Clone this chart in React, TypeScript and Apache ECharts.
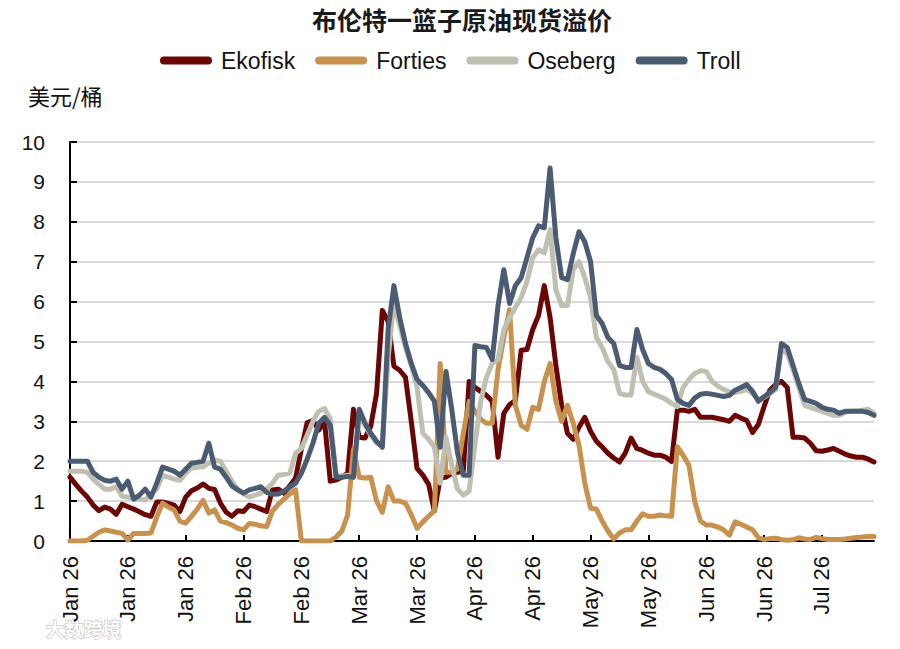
import React, { useEffect, useRef } from "react";
import * as echarts from "echarts";

const MONTHS = ["Jan", "Feb", "Mar", "Apr", "May", "Jun", "Jul", "Aug", "Sep", "Oct", "Nov", "Dec"];

// business days starting 2 Jan 2026 (categories)
const CATEGORY_COUNT = 140;
const categories: string[] = (() => {
  const out: string[] = [];
  const d = new Date(Date.UTC(2026, 0, 2));
  while (out.length < CATEGORY_COUNT) {
    const wd = d.getUTCDay();
    if (wd !== 0 && wd !== 6) out.push(d.toISOString().slice(0, 10));
    d.setUTCDate(d.getUTCDate() + 1);
  }
  return out;
})();

const ekofisk = [
  1.6, 1.42, 1.25, 1.1, 0.9, 0.76, 0.85, 0.8, 0.67, 0.92,
  0.86, 0.8, 0.73, 0.66, 0.62, 0.98, 0.98, 0.94, 0.9, 0.74,
  1.1, 1.26, 1.33, 1.43, 1.32, 1.29, 0.95, 0.72, 0.62, 0.76,
  0.74, 0.9, 0.86, 0.8, 0.74, 1.28, 1.3, 1.2, 1.38, 1.58,
  2.3, 2.97, 3.02, 2.78, 3.0, 1.5, 1.53, 1.6, 1.7, 3.3,
  2.6, 2.58, 2.88, 3.7, 5.78, 5.5, 4.38, 4.28, 4.1, 3.0,
  1.82, 1.65, 1.42, 0.75, 1.57, 1.6, 1.7, 1.72, 1.75, 4.0,
  3.85, 3.75, 3.65, 3.5, 2.1, 3.2, 3.42, 3.52, 4.78, 4.8,
  5.3, 5.65, 6.4, 5.6, 4.4, 3.4, 2.7, 2.55, 2.85, 3.1,
  2.75, 2.5, 2.36, 2.2, 2.08, 1.98, 2.2, 2.58, 2.32, 2.27,
  2.2, 2.15, 2.15, 2.1, 1.99, 3.28, 3.28, 3.25, 3.3, 3.1,
  3.1, 3.1, 3.07, 3.04, 3.0, 3.15, 3.08, 3.02, 2.72, 2.92,
  3.37, 3.78, 3.92, 4.0, 3.85, 2.6, 2.6, 2.58, 2.45, 2.26,
  2.25, 2.28, 2.32, 2.25, 2.18, 2.13, 2.1, 2.1, 2.05, 1.98,
];

const forties = [
  0, 0, 0, 0.02, 0.12, 0.22, 0.28, 0.25, 0.22, 0.19,
  0.02, 0.19, 0.19, 0.19, 0.2, 0.6, 0.95, 0.85, 0.78, 0.5,
  0.45, 0.62, 0.8, 1.02, 0.7, 0.78, 0.5, 0.46, 0.4, 0.32,
  0.28, 0.44, 0.42, 0.38, 0.36, 0.75, 0.92, 1.05, 1.18, 1.28,
  0, 0, 0, 0, 0, 0, 0.1, 0.25, 0.65, 2.3,
  1.6, 1.58, 1.6, 1.0, 0.72, 1.36, 1.0, 1.0, 0.95, 0.66,
  0.32, 0.48, 0.62, 0.76, 4.45, 1.72, 1.72, 1.8, 2.7, 3.5,
  3.25, 3.05, 2.95, 2.95, 4.3, 5.1, 5.8, 3.4, 2.9, 2.8,
  3.35, 3.3, 4.0, 4.45, 3.5, 3.0, 3.4, 2.95, 2.4, 1.45,
  0.82, 0.8, 0.5, 0.25, 0.05, 0.2, 0.28, 0.28, 0.5, 0.68,
  0.62, 0.62, 0.65, 0.63, 0.62, 2.36, 2.15, 1.9, 1.0, 0.5,
  0.4, 0.4, 0.35, 0.28, 0.15, 0.48, 0.42, 0.35, 0.28, 0.08,
  0.04, 0.06, 0.07, 0.04, 0.02, 0.03, 0.08, 0.05, 0.04, 0.09,
  0.06, 0.04, 0.04, 0.04, 0.05, 0.07, 0.09, 0.1, 0.11, 0.11,
];

const oseberg = [
  1.75, 1.75, 1.75, 1.72, 1.55, 1.42, 1.3, 1.3, 1.36, 1.12,
  1.1, 1.07, 1.05, 1.03, 1.18, 1.3, 1.65, 1.6, 1.55, 1.52,
  1.7, 1.83, 1.85, 1.86, 1.95, 2.03, 2.0, 1.75, 1.5, 1.3,
  1.18, 1.1, 1.15, 1.2, 1.3, 1.45, 1.65, 1.67, 1.7, 2.2,
  2.32, 2.65, 3.0, 3.25, 3.32, 3.05, 1.65, 1.63, 1.65, 1.6,
  3.15, 2.9, 2.65, 2.45, 2.4, 4.6, 6.0, 5.4, 4.85, 4.4,
  3.85, 2.7, 2.55, 2.35, 1.45, 2.6, 1.9, 1.3, 1.15, 1.25,
  2.4, 3.5, 4.1, 4.45, 4.55, 5.3, 5.6, 5.85, 6.1, 6.5,
  7.1, 7.3, 7.22, 7.8, 6.3, 5.9, 5.9, 6.8, 7.0, 6.6,
  6.1, 5.1, 4.85, 4.5, 4.3, 3.7, 3.66, 3.66, 4.6, 4.0,
  3.74, 3.68, 3.62, 3.55, 3.45, 3.37, 3.85, 4.05, 4.2, 4.27,
  4.25, 4.0, 3.88, 3.8, 3.74, 3.72, 3.75, 3.8, 3.7, 3.55,
  3.6, 3.7, 3.8, 4.8, 4.7, 4.3, 3.85, 3.4, 3.35, 3.3,
  3.25, 3.2, 3.15, 3.15, 3.22, 3.25, 3.25, 3.28, 3.3, 3.2,
];

const troll = [
  2.0, 2.0, 2.0, 2.0, 1.72, 1.6, 1.52, 1.5, 1.55, 1.3,
  1.5, 1.05, 1.15, 1.3, 1.1, 1.45, 1.85, 1.8, 1.75, 1.65,
  1.8, 1.95, 1.97, 2.0, 2.45, 1.85, 1.8, 1.6, 1.38, 1.28,
  1.2, 1.28, 1.32, 1.36, 1.22, 1.17, 1.18, 1.25, 1.35, 1.45,
  1.7, 2.05, 2.45, 2.95, 3.1, 2.9, 1.6, 1.6, 1.62, 1.6,
  3.3, 2.95, 2.7, 2.5, 2.35, 5.3, 6.4, 5.6, 4.95, 4.45,
  4.05, 3.9, 3.72, 3.5, 2.35, 4.25, 3.3, 2.2, 1.65, 1.65,
  4.9, 4.87, 4.85, 4.55, 5.9, 6.8, 5.95, 6.4, 6.6, 7.1,
  7.6, 7.9, 7.85, 9.35, 7.6, 6.6, 6.55, 7.2, 7.75, 7.5,
  7.0, 5.65, 5.45, 5.1, 4.95, 4.4, 4.35, 4.35, 5.3, 4.8,
  4.45, 4.35, 4.3, 4.2, 4.05, 3.55, 3.45, 3.4, 3.58, 3.68,
  3.7, 3.68, 3.65, 3.62, 3.65, 3.78, 3.85, 3.92, 3.75, 3.5,
  3.62, 3.72, 3.85, 4.95, 4.85, 4.4, 3.95, 3.55, 3.5, 3.45,
  3.35, 3.3, 3.28, 3.2, 3.25, 3.25, 3.25, 3.25, 3.22, 3.15,
];

const SERIES_NAMES = ["Ekofisk", "Forties", "Oseberg", "Troll"];
const SERIES_COLORS = ["#6b0606", "#c8924e", "#bfc0b1", "#4a5b72"];
const SERIES_DATA = [ekofisk, forties, oseberg, troll];

const TITLE = "布伦特一篮子原油现货溢价";
const UNIT = "美元/桶";
const WATERMARK = "大数跨境";

const LATIN = "Arial, 'Liberation Sans', Helvetica, sans-serif";
const CJK = "'Noto Sans CJK SC', 'Noto Sans', sans-serif";

export default function App() {
  const ref = useRef<HTMLDivElement>(null);

  useEffect(() => {
    document.body.style.margin = "0";
    if (!ref.current) return;
    const chart = echarts.init(ref.current, undefined, { renderer: "svg" });
    const capsule = "path://M4 0H48A4 4 0 0 1 48 8H4A4 4 0 0 1 4 0Z";
    chart.setOption({
      animation: false,
      backgroundColor: "#ffffff",
      title: {
        text: TITLE,
        left: 457,
        textAlign: "center",
        top: 1,
        textStyle: { fontFamily: CJK, fontSize: 25, fontWeight: "bold", color: "#1a1a1a" },
      },
      legend: {
        top: 44,
        left: 155,
        itemWidth: 52,
        itemHeight: 8,
        itemGap: 20,
        icon: capsule,
        textStyle: { fontFamily: LATIN, fontSize: 23, color: "#111", padding: [0, 0, 0, 4] },
        data: SERIES_NAMES.map((n) => ({ name: n, icon: capsule })),
      },
      graphic: [
        {
          type: "text",
          left: 28,
          top: 84,
          style: { text: UNIT, fontFamily: CJK, fontSize: 22, fill: "#111" },
        },
        {
          type: "text",
          left: 45,
          top: 618,
          style: {
            text: WATERMARK,
            fontFamily: CJK,
            fontSize: 19,
            fontWeight: "bold",
            fill: "rgba(255,255,255,0.95)",
            stroke: "#c4c4c4",
            lineWidth: 1.2,
          },
        },
      ],
      grid: { left: 70, right: 26, top: 142, bottom: 108, containLabel: false },
      xAxis: {
        type: "category",
        boundaryGap: false,
        data: categories,
        axisLine: { show: true, lineStyle: { color: "#000", width: 2 } },
        axisTick: { show: true, inside: true, length: 6, interval: 9, lineStyle: { color: "#000", width: 2 } },
        axisLabel: {
          interval: 9,
          rotate: 90,
          margin: 15,
          fontFamily: LATIN,
          fontSize: 22,
          color: "#111",
          formatter: (v: string) => {
            const m = parseInt(v.slice(5, 7), 10) - 1;
            return MONTHS[m] + " " + v.slice(2, 4);
          },
        },
        splitLine: { show: false },
      },
      yAxis: {
        type: "value",
        min: 0,
        max: 10,
        interval: 1,
        axisLine: { show: true, lineStyle: { color: "#000", width: 2 } },
        axisTick: { show: true, inside: true, length: 7, lineStyle: { color: "#000", width: 2 } },
        axisLabel: { margin: 25, fontFamily: LATIN, fontSize: 21, color: "#111" },
        splitLine: { show: true, lineStyle: { color: "#d9d9d9", width: 2 } },
      },
      series: SERIES_NAMES.map((name, k) => ({
        name,
        type: "line",
        data: SERIES_DATA[k],
        showSymbol: false,
        symbol: "none",
        color: SERIES_COLORS[k],
        lineStyle: { color: SERIES_COLORS[k], width: 5, join: "round", cap: "round" },
        emphasis: { disabled: true },
      })),
    });
    return () => chart.dispose();
  }, []);

  return <div ref={ref} style={{ width: 900, height: 649 }} />;
}
